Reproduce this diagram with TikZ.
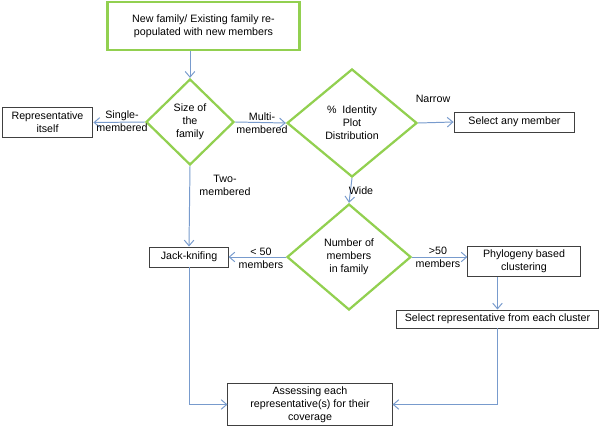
\documentclass[tikz,border=0pt]{standalone}
\usepackage{fontspec}
\setmainfont{Liberation Sans}
\usepackage{xcolor}
\usepackage{tikz}
\usetikzlibrary{shapes.geometric, arrows.meta}

\definecolor{boxgreen}{RGB}{146,208,80}
\definecolor{linkblue}{RGB}{120,155,205}
\definecolor{boxgray}{RGB}{64,64,64}

\begin{document}
\begin{tikzpicture}[
    x = 0.025cm, y = -0.025cm,
    every node/.style = {font=\fontsize{7.6}{9.2}\selectfont, align=center},
    startbox/.style = {draw=boxgreen, line width=2pt, rectangle, inner sep=0pt},
    decision/.style = {draw=boxgreen, line width=1.6pt, diamond, inner sep=0pt},
    plainbox/.style = {draw=boxgray, line width=0.7pt, rectangle, inner sep=0pt},
    link/.style = {draw=linkblue, line width=0.7pt, -{Straight Barb[length=1.4mm, width=2.4mm]}}
  ]
    \useasboundingbox (0,0) rectangle (600,427);

    % boxes and decisions
    \node[startbox, minimum width=4.8cm, minimum height=1.2cm] (start) at (203.5,26)
        {New family/ Existing family re-\\populated with new members};
    \node[decision, minimum width=2.2cm, minimum height=2.15cm] (size) at (190,122)
        {Size of\\the\\family};
    \node[plainbox, minimum width=2.27cm, minimum height=0.77cm] (rep) at (47.5,122.5)
        {Representative\\itself};
    \node[decision, minimum width=3.25cm, minimum height=2.7cm] (pid) at (352,123)
        {\%\ \ Identity\\Plot\\Distribution};
    \node[plainbox, minimum width=3.02cm, minimum height=0.5cm] (anymember) at (514.5,122)
        {Select any member};
    \node[decision, minimum width=3.1cm, minimum height=2.65cm] (nmem) at (349,257)
        {Number of\\members\\in family};
    \node[plainbox, minimum width=1.95cm, minimum height=0.5cm] (jack) at (189,257)
        {Jack-knifing};
    \node[plainbox, minimum width=2.8cm, minimum height=0.77cm] (phylo) at (524,261.5)
        {Phylogeny based\\clustering};
    \node[plainbox, minimum width=5.07cm, minimum height=0.45cm] (selrep) at (497.5,319)
        {Select representative from each cluster};
    \node[plainbox, minimum width=4.1cm, minimum height=1.07cm] (assess) at (310,404.5)
        {Assessing each\\representative(s) for their\\coverage};

    % connectors
    \draw[link] (size.north |- start.south) -- (size.north);
    \draw[link] (size.west) -- (rep.east);
    \draw[link] (size.east) -- (pid.west);
    \draw[link] (size.south) -- (jack.north);
    \draw[link] (pid.east) -- (anymember.west);
    \draw[link] (pid.south) -- (nmem.north);
    \draw[link] (nmem.west) -- (jack.east);
    \draw[link] (nmem.east) -- (phylo.west |- nmem.east);
    \draw[link] (phylo.south -| selrep.north) -- (selrep.north);
    \draw[link] (selrep.south) |- (assess.east);
    \draw[link] (jack.south) |- (assess.west);

    % connector labels
    \node (lsingle) at (122,121) {Single-\\membered};
    \node (lmulti) at (262,123) {Multi-\\membered};
    \node (ltwo) at (225,185) {Two-\\membered};
    \node (lnarrow) at (433,99) {Narrow};
    \node (lwide) at (361,191) {Wide};
    \node (lless) at (261,258) {< 50\\members};
    \node (lmore) at (438,257) {>50\\members};
\end{tikzpicture}
\end{document}
